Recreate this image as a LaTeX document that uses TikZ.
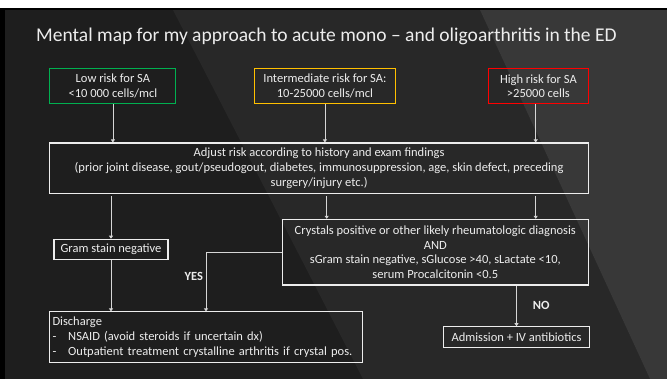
\documentclass[tikz,border=0pt]{standalone}
\usepackage{fontspec}
\setmainfont{Carlito}
\usetikzlibrary{arrows.meta,positioning,calc}
\definecolor{bgdark}{HTML}{1E1E1E}
\definecolor{bgmid}{HTML}{282828}
\definecolor{bglight}{HTML}{383838}
\definecolor{txt}{HTML}{EDEDED}
\definecolor{wire}{HTML}{D6D6D6}
\definecolor{lowrisk}{HTML}{00B050}
\definecolor{midrisk}{HTML}{FFC000}
\definecolor{highrisk}{HTML}{FF0000}
\newcommand{\bxfont}{\fontsize{12.5}{14.7}\selectfont}

\begin{document}
\begin{tikzpicture}[x=1pt,y=-1pt,
		box/.style={draw=txt,line width=1.1pt,text=txt,align=center,inner sep=0pt,font=\bxfont},
		arr/.style={draw=wire,line width=0.8pt,-{Triangle[length=3pt,width=4pt]}},
		lbl/.style={text=txt,font=\bxfont\bfseries}]
	\useasboundingbox (0,0) rectangle (667,379);
	% slide background
	\fill[bgdark] (0,0) rectangle (667,379);
	\fill[bgmid] (173,10) -- (480,10) -- (650,379) -- (363,379) -- cycle;
	\fill[bglight] (480,10) -- (667,10) -- (667,379) -- (650,379) -- cycle;
	\fill[white] (0,0) rectangle (667,8.3);
	\fill[black] (0,8.3) rectangle (667,10.3);
	\fill[black] (0,8.3) rectangle (5,379);
	%
	\node[anchor=base west,text=txt,font=\fontsize{19.5}{23}\selectfont] (title) at (32.7,41.7)
		{Mental map for my approach to acute mono – and oligoarthritis in the ED};
	%
	\node[box,draw=lowrisk,minimum width=126pt,minimum height=35.5pt] (low) at (112.9,86.2)
		{Low risk for SA\\<10 000 cells/mcl};
	\node[box,draw=midrisk,minimum width=141.7pt,minimum height=35.5pt] (mid) at (324.9,86.2)
		{Intermediate risk for SA:\\10-25000 cells/mcl};
	\node[box,draw=highrisk,minimum width=100.2pt,minimum height=35.5pt] (high) at (538.4,86.2)
		{High risk for SA\\>25000 cells};
	\node[box,minimum width=538.5pt,minimum height=50.8pt] (adj) at (319.1,168.4)
		{Adjust risk according to history and exam findings\\
		(prior joint disease, gout/pseudogout, diabetes, immunosuppression, age, skin defect, preceding\\
		surgery/injury etc.)};
	\node[box,minimum width=114pt,minimum height=20.7pt] (gram) at (111,249.6)
		{Gram stain negative};
	\node[box,minimum width=306pt,minimum height=65.7pt] (cryst) at (435.3,252.2)
		{Crystals positive or other likely rheumatologic diagnosis\\
		AND\\
		sGram stain negative, sGlucose >40, sLactate <10,\\
		serum Procalcitonin <0.5};
	\node[box,align=left,minimum width=312.5pt,minimum height=50.7pt,text width=307pt] (disch) at (206,337.3)
		{Discharge\\
		\makebox[15.7pt][l]{-}NSAID (avoid steroids if uncertain dx)\\
		\makebox[15.7pt][l]{-}Outpatient treatment crystalline arthritis if crystal pos.};
	\node[box,minimum width=145.6pt,minimum height=20.6pt] (adm) at (516.5,337)
		{Admission + IV antibiotics};
	%
	\coordinate (c1) at (326.7,195);
	\coordinate (c2) at (535.7,104);
	%
	\draw[arr] (low) -- (low |- adj.north);
	\draw[arr] (mid) -- (mid |- adj.north);
	\draw[arr] (c2) -- (c2 |- adj.north);
	\draw[arr,shorten <=2pt] (adj.south -| gram) -- (gram);
	\draw[arr,shorten <=1.5pt] (adj.south -| c1) -- (c1 |- cryst.north);
	\draw[arr,shorten <=1.5pt] (adj.south -| c2) -- (c2 |- cryst.north);
	\draw[arr] (gram) -- (gram |- disch.north);
	\draw[arr] (cryst.west) -| (disch.north);
	\draw[arr] (cryst.south -| adm) -- (adm);
	%
	\node[lbl] (yes) at (193.8,276.7) {YES};
	\node[lbl] (no) at (541.3,305) {NO};
\end{tikzpicture}
\end{document}
